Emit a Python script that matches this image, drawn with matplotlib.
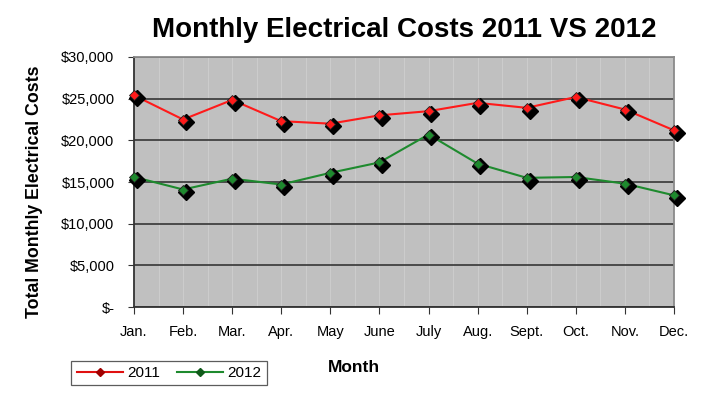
import numpy as np
import matplotlib.pyplot as plt
import matplotlib.transforms as mtransforms
from matplotlib.ticker import FuncFormatter, MultipleLocator

months = ['Jan.', 'Feb.', 'Mar.', 'Apr.', 'May', 'June', 'July', 'Aug.', 'Sept.', 'Oct.', 'Nov.', 'Dec.']
costs_2011 = [25400, 22500, 24850, 22300, 22000, 23000, 23500, 24500, 23900, 25200, 23700, 21200]
costs_2012 = [15600, 14100, 15400, 14700, 16100, 17350, 20700, 17200, 15500, 15600, 14800, 13400]

plt.rcParams['font.family'] = ['Liberation Sans', 'DejaVu Sans']

fig = plt.figure(figsize=(7.09, 3.95), dpi=100)
ax = fig.add_axes([134 / 709, 1 - 307 / 395, 540 / 709, 250 / 395])
ax.set_facecolor('#c0c0c0')

x = np.arange(len(months))

# linhas + marcadores com sombra preta
shadow = mtransforms.offset_copy(ax.transData, fig=fig, x=2, y=-2, units='points')
for vals, col in [(costs_2011, '#ff1a1a'), (costs_2012, '#1e8a2e')]:
    ax.plot(x, vals, color=col, lw=1.5, zorder=3, clip_on=False)
    ax.plot(x, vals, ls='none', marker='D', ms=8, color='black', transform=shadow, zorder=4, clip_on=False)
    ax.plot(x, vals, ls='none', marker='D', ms=5, color=col, mec='#202020', mew=0.6, zorder=5, clip_on=False)

ax.set_xlim(0, 11)
ax.set_ylim(0, 30000)
ax.set_xticks(x)
ax.set_xticklabels(months, fontsize=10.5)
ax.xaxis.set_minor_locator(MultipleLocator(0.5))
ax.yaxis.set_major_locator(MultipleLocator(5000))
ax.yaxis.set_major_formatter(FuncFormatter(lambda v, p: '$-' if v == 0 else f'${v:,.0f}'))
ax.tick_params(axis='y', labelsize=10.5, length=4, color='#333333', pad=10)
ax.tick_params(axis='x', which='major', length=5, color='#333333', pad=8)
ax.tick_params(axis='x', which='minor', length=0)
ax.grid(axis='y', which='major', color='#2a2a2a', lw=1.1, zorder=1)
ax.grid(axis='x', which='both', color='#cccccc', lw=0.8, zorder=0)
ax.set_axisbelow(True)

for s in ['left', 'bottom']:
    ax.spines[s].set_color('#333333')
    ax.spines[s].set_linewidth(1.3)
for s in ['top', 'right']:
    ax.spines[s].set_color('#8a8a8a')
    ax.spines[s].set_linewidth(1.3)

fig.text(404 / 709, 1 - 30 / 395, 'Monthly Electrical Costs 2011 VS 2012',
         ha='center', va='center', fontsize=20, fontweight='bold')
fig.text(35 / 709, 1 - 192 / 395, 'Total Monthly Electrical Costs', rotation=90,
         ha='center', va='center', fontsize=12.8, fontweight='bold')
fig.text(354 / 709, 1 - 368 / 395, 'Month', ha='center', va='center',
         fontsize=12.5, fontweight='bold')

h1 = plt.Line2D([], [], color='#e01010', marker='D', ms=4, mfc='#a00000', mec='#a00000', lw=1.5)
h2 = plt.Line2D([], [], color='#1e8a2e', marker='D', ms=4, mfc='#105a1a', mec='#105a1a', lw=1.5)
leg = fig.legend([h1, h2], ['2011', '2012'], loc='center', bbox_to_anchor=(169 / 709, 1 - 373 / 395),
                 ncol=2, fontsize=11, frameon=True, fancybox=False, edgecolor='#333333',
                 handlelength=3.0, columnspacing=1.1, handletextpad=0.3, borderpad=0.35)
leg.get_frame().set_linewidth(0.9)

fig.savefig('out.png', dpi=100)
